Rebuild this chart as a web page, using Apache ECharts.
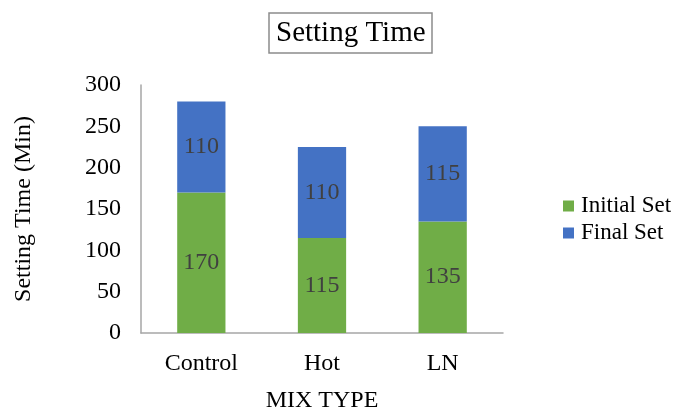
<!DOCTYPE html>
<html>
<head>
<meta charset="utf-8">
<script src="https://cdn.jsdelivr.net/npm/echarts@6/dist/echarts.min.js"></script>
<style>
  html, body { margin: 0; padding: 0; background: #fff; }
  #chart { width: 675px; height: 408px; }
</style>
</head>
<body>
<div id="chart"></div>
<script>
// Setting time per mix type (minutes)
const categories = ['Control', 'Hot', 'LN'];
const initialSet = [170, 115, 135];
const finalSet = [110, 110, 115];
const yTicks = { min: 0, max: 300, interval: 50 };

const FONT = '"Liberation Serif", "Times New Roman", serif';

const chart = echarts.init(document.getElementById('chart'), null, { renderer: 'canvas' });

const labelStyle = {
  show: true,
  position: 'inside',
  color: '#404040',
  fontFamily: FONT,
  fontSize: 24
};

chart.setOption({
  animation: false,
  backgroundColor: '#ffffff',
  title: {
    text: 'Setting Time',
    left: 269,
    top: 13,
    borderColor: '#8c8c8c',
    borderWidth: 1.5,
    padding: [5, 7, 5, 7],
    textStyle: { fontFamily: FONT, fontSize: 29, lineHeight: 30, fontWeight: 'normal', color: '#000' }
  },
  legend: {
    orient: 'vertical',
    left: 558,
    top: 189,
    itemWidth: 11,
    itemHeight: 11,
    itemGap: 3,
    icon: 'rect',
    data: ['Initial Set', 'Final Set'],
    textStyle: { fontFamily: FONT, fontSize: 23, lineHeight: 24, color: '#000', padding: [0, 0, 0, 2] }
  },
  grid: { left: 141, right: 172, top: 85, bottom: 75, containLabel: false, outerBoundsMode: 'none' },
  xAxis: {
    type: 'category',
    data: categories,
    name: 'MIX TYPE',
    nameLocation: 'middle',
    nameGap: 56,
    nameTextStyle: { fontFamily: FONT, fontSize: 24, color: '#000' },
    axisLine: { lineStyle: { color: '#a6a6a6', width: 1.5 } },
    axisTick: { show: false },
    axisLabel: { fontFamily: FONT, fontSize: 24, color: '#000', margin: 19 }
  },
  yAxis: {
    type: 'value',
    min: yTicks.min,
    max: yTicks.max,
    interval: yTicks.interval,
    name: 'Setting Time (Min)',
    nameLocation: 'middle',
    nameRotate: 90,
    nameGap: 105,
    nameTextStyle: { fontFamily: FONT, fontSize: 24, color: '#000' },
    axisLine: { show: true, lineStyle: { color: '#a6a6a6', width: 1.5 } },
    axisTick: { show: false },
    splitLine: { show: false },
    axisLabel: { fontFamily: FONT, fontSize: 24, color: '#000', margin: 20 }
  },
  series: [
    {
      name: 'Initial Set',
      type: 'bar',
      stack: 'time',
      data: initialSet,
      barCategoryGap: '60%',
      itemStyle: { color: '#70ad47' },
      label: labelStyle
    },
    {
      name: 'Final Set',
      type: 'bar',
      stack: 'time',
      data: finalSet,
      barCategoryGap: '60%',
      itemStyle: { color: '#4472c4' },
      label: labelStyle
    }
  ]
});
</script>
</body>
</html>
